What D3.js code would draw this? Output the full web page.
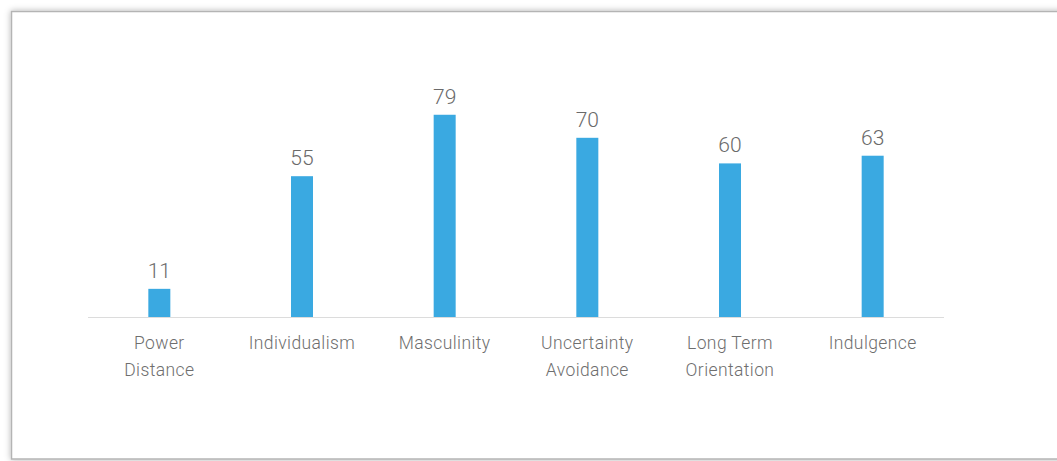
<!DOCTYPE html>
<html>
  <head>
    <style>
      body { margin: 0; background: #fff; }
    </style>
  </head>
  <body>
    <div id="my_dataviz"></div>
  </body>
</html>

<script src="https://d3js.org/d3.v7.min.js"></script>

<script>

    // data
    var dimensions = ["Power Distance", "Individualism", "Masculinity", "Uncertainty Avoidance", "Long Term Orientation", "Indulgence"]
    var scores = [11, 55, 79, 70, 60, 63]
    // how each category label is broken into lines
    var labelLines = [["Power", "Distance"], ["Individualism"], ["Masculinity"], ["Uncertainty", "Avoidance"], ["Long Term", "Orientation"], ["Indulgence"]]

    var width = 1057
        height = 461

    var svg = d3.select("#my_dataviz")
      .append("svg")
        .attr("width", width)
        .attr("height", height)

    // soft shadow round the frame
    var defs = svg.append("defs")
    var filter = defs.append("filter")
        .attr("id", "shadow")
        .attr("x", "-5%").attr("y", "-5%")
        .attr("width", "110%").attr("height", "110%")
    filter.append("feDropShadow")
        .attr("dx", 0).attr("dy", 0)
        .attr("stdDeviation", 3)
        .attr("flood-color", "#000")
        .attr("flood-opacity", 0.3)

    svg.append("rect")
        .attr("x", 11.5)
        .attr("y", 11.5)
        .attr("width", 1070)
        .attr("height", 447.5)
        .attr("fill", "#fff")
        .attr("stroke", "#b4b4b4")
        .attr("stroke-width", 1.5)
        .attr("filter", "url(#shadow)")

    // scales
    var x = d3.scaleBand()
        .domain(dimensions)
        .range([88, 944])

    var y = d3.scaleLinear()
        .domain([0, 100])
        .range([317, 61])

    // baseline
    svg.append("line")
        .attr("x1", x.range()[0])
        .attr("x2", x.range()[1])
        .attr("y1", y(0) + 0.5)
        .attr("y2", y(0) + 0.5)
        .attr("stroke", "#dcdcdc")
        .attr("stroke-width", 1)

    var barWidth = 22

    // bars
    svg.selectAll("rect.bar")
      .data(scores)
      .enter()
      .append("rect")
        .attr("class", "bar")
        .attr("x", function(d, i){ return x(dimensions[i]) + x.bandwidth() / 2 - barWidth / 2 })
        .attr("y", function(d){ return y(d) })
        .attr("width", barWidth)
        .attr("height", function(d){ return y(0) - y(d) })
        .attr("fill", "#3aa9e1")

    // value labels
    svg.selectAll("text.value")
      .data(scores)
      .enter()
      .append("text")
        .attr("class", "value")
        .attr("x", function(d, i){ return x(dimensions[i]) + x.bandwidth() / 2 })
        .attr("y", function(d){ return y(d) - 11 })
        .attr("text-anchor", "middle")
        .style("font-family", "Roboto, sans-serif")
        .style("font-weight", 300)
        .style("font-size", "21px")
        .style("fill", "#6a6a6a")
        .text(function(d){ return d })

    // category labels
    var labels = svg.selectAll("text.cat")
      .data(labelLines)
      .enter()
      .append("text")
        .attr("class", "cat")
        .attr("x", function(d, i){ return x(dimensions[i]) + x.bandwidth() / 2 })
        .attr("y", 349)
        .attr("text-anchor", "middle")
        .style("font-family", "Roboto, sans-serif")
        .style("font-weight", 300)
        .style("font-size", "17.5px")
        .style("letter-spacing", "0.4px")
        .style("fill", "#6e6e6e")

    labels.selectAll("tspan")
      .data(function(d, i){ return d.map(function(t){ return { t: t, i: i } }) })
      .enter()
      .append("tspan")
        .attr("x", function(d){ return x(dimensions[d.i]) + x.bandwidth() / 2 })
        .attr("dy", function(d, j){ return j === 0 ? 0 : 27 })
        .text(function(d){ return d.t })

</script>
